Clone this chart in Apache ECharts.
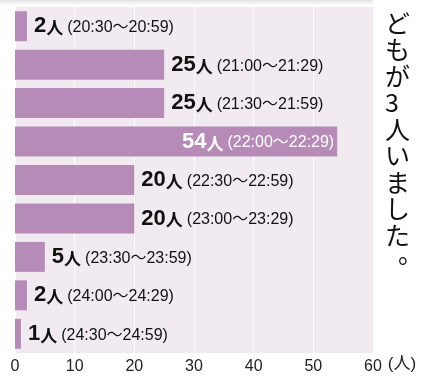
<!DOCTYPE html>
<html>
<head>
<meta charset="utf-8">
<script src="https://cdn.jsdelivr.net/npm/echarts@6/dist/echarts.min.js"></script>
<style>
  html, body { margin: 0; padding: 0; background: #fff; }
  #main { width: 422px; height: 382px; }
</style>
</head>
<body>
<div id="main"></div>
<script>
// 就寝時刻ごとの人数
var ranges = ['20:30〜20:59', '21:00〜21:29', '21:30〜21:59', '22:00〜22:29',
              '22:30〜22:59', '23:00〜23:29', '23:30〜23:59', '24:00〜24:29', '24:30〜24:59'];
var counts = [2, 25, 25, 54, 20, 20, 5, 2, 1];
var ticks = [0, 10, 20, 30, 40, 50, 60];
var unit = '人';
var note = 'どもが3人いました';

var font = '"Liberation Sans", Arial, "Noto Sans CJK JP", sans-serif';
var jp = '"Noto Sans CJK JP", sans-serif';

var rich = {
    v: { fontSize: 22, fontWeight: 'bold', fontFamily: font },
    u: { fontSize: 17, fontWeight: 'bold', fontFamily: jp, padding: [3, 0, 0, 0] },
    t: { fontSize: 16, fontFamily: font, padding: [3, 0, 0, 4] }
};

var barData = counts.map(function (c) {
    var item = { value: c };
    if (c > 40) {
        item.label = { position: 'insideRight', distance: 3, color: '#fff' };
    }
    return item;
});

var chart = echarts.init(document.getElementById('main'));
chart.setOption({
    animation: false,
    grid: {
        left: 15, right: 49, top: 7, bottom: 29,
        show: true, backgroundColor: '#f2eaf1', borderWidth: 0
    },
    xAxis: {
        type: 'value',
        min: ticks[0], max: ticks[ticks.length - 1], interval: 10,
        axisLine: { show: false },
        axisTick: { show: false },
        splitLine: { lineStyle: { color: '#ffffff', width: 1 } },
        axisLabel: { color: '#222', fontSize: 16, fontFamily: font, margin: 6 },
        name: '(' + unit + ')',
        nameLocation: 'end',
        nameGap: 9,
        nameTextStyle: {
            color: '#222', fontSize: 17, fontFamily: font,
            verticalAlign: 'top', padding: [3, 0, 0, 0]
        }
    },
    yAxis: {
        type: 'category',
        data: ranges,
        inverse: true,
        show: false
    },
    graphic: [{
        type: 'rect',
        shape: { x: 0, y: 0, width: 373, height: 8 },
        style: {
            fill: new echarts.graphic.LinearGradient(0, 0, 0, 1, [
                { offset: 0, color: 'rgba(215,210,215,0.7)' },
                { offset: 1, color: 'rgba(255,255,255,0)' }
            ])
        },
        silent: true
    }, {
        type: 'text',
        left: 385, top: 10,
        style: {
            text: note.split('').join('\n'),
            fontSize: 25, lineHeight: 26.5,
            fontFamily: jp,
            fill: '#111', align: 'center'
        }
    }, {
        type: 'text',
        left: 398, top: 241,
        style: {
            text: '。',
            fontSize: 25,
            fontFamily: jp,
            fill: '#111'
        }
    }],
    series: [{
        type: 'bar',
        data: barData,
        barCategoryGap: '22%',
        itemStyle: { color: '#b68bb8' },
        label: {
            show: true,
            position: 'right',
            distance: 7,
            color: '#111',
            formatter: function (p) {
                return '{v|' + p.value + '}{u|' + unit + '}{t|(' + ranges[p.dataIndex] + ')}';
            },
            rich: rich
        }
    }]
});
</script>
</body>
</html>
